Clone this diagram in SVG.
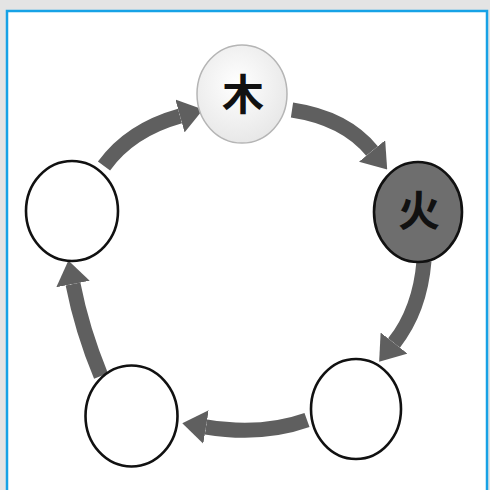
<svg xmlns="http://www.w3.org/2000/svg" width="490" height="490" viewBox="0 0 490 490">
<style>
.node{stroke:#111;stroke-width:2.6}
.arr{fill:none;stroke:#5f5f5f;stroke-width:15;stroke-linecap:butt}
.lbl{font-family:"Noto Sans CJK SC","Noto Sans CJK JP",sans-serif;font-weight:bold;font-size:42px;text-anchor:middle;fill:#111}
</style>
<defs>
<radialGradient id="woodFill" cx="0.45" cy="0.4" r="0.65">
<stop offset="0" stop-color="#ffffff"/>
<stop offset="1" stop-color="#e6e6e6"/>
</radialGradient>
<marker id="head" markerUnits="userSpaceOnUse" markerWidth="24" markerHeight="34" refX="0" refY="17" orient="auto" viewBox="0 0 24 34">
<path d="M0,0 L24,17 L0,34 z" fill="#5f5f5f"/>
</marker>
</defs>
<rect x="0" y="0" width="490" height="490" fill="#e4e4e4"/>
<rect x="7" y="11" width="480" height="490" fill="#ffffff" stroke="#17a2e6" stroke-width="2.5"/>
<g id="connectors">
<path class="arr" d="M104,166 Q130,130 180,116" marker-end="url(#head)"/>
<path class="arr" d="M292,110 Q345,118 372,151" marker-end="url(#head)"/>
<path class="arr" d="M424,261 Q420,310 394,343" marker-end="url(#head)"/>
<path class="arr" d="M307,420 Q262,436 206,427" marker-end="url(#head)"/>
<path class="arr" d="M101,376 Q82,330 73,284" marker-end="url(#head)"/>
</g>
<g id="node-wood">
<ellipse cx="242" cy="94" rx="45" ry="49" fill="url(#woodFill)" stroke="#b5b5b5" stroke-width="1.5"/>
<text class="lbl" x="243" y="110">木</text>
</g>
<g id="node-fire">
<ellipse class="node" cx="418" cy="212" rx="44" ry="50" fill="#6e6e6e"/>
<text class="lbl" x="419" y="226">火</text>
</g>
<g id="node-bottom-right">
<ellipse class="node" cx="356" cy="409" rx="45" ry="50" fill="#ffffff"/>
</g>
<g id="node-bottom-left">
<ellipse class="node" cx="131.5" cy="416" rx="46" ry="50.5" fill="#ffffff"/>
</g>
<g id="node-left">
<ellipse class="node" cx="72" cy="211" rx="46" ry="50" fill="#ffffff"/>
</g>
</svg>
